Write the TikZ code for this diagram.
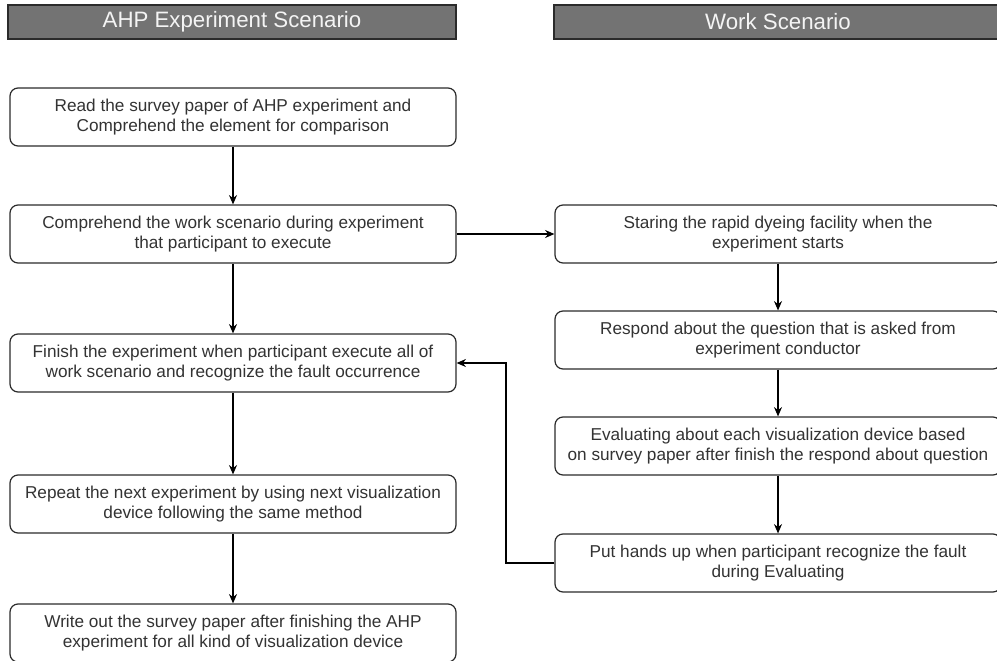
\documentclass[tikz,border=0pt]{standalone}
\usepackage{fontspec}
\setmainfont{Liberation Sans}
\usetikzlibrary{arrows.meta}
\definecolor{headfill}{HTML}{737373}
\definecolor{headtext}{HTML}{F4F4F4}
\definecolor{boxline}{HTML}{2B2B2B}
\definecolor{boxtext}{HTML}{333333}
\begin{document}
\begin{tikzpicture}[x=0.75pt,y=-0.75pt,
  header/.style={draw=boxline,fill=headfill,line width=1pt,minimum width=336pt,minimum height=25.5pt,
    inner sep=0pt,text=headtext,font=\fontsize{16.7pt}{19pt}\selectfont},
  stepbox/.style={draw=boxline,fill=white,line width=0.9pt,rounded corners=6pt,minimum width=334.5pt,
    minimum height=43.5pt,inner sep=0pt,align=center,text=boxtext,
    font=\fontsize{12.9pt}{15pt}\selectfont},
  flow/.style={draw=black,line width=0.8pt,-{Stealth[length=7pt,width=6pt]}}]
\useasboundingbox (0,0) rectangle (997,661);
\clip (0,0) rectangle (997,661);

% column headers
\node[header] (hL) at (232,22) {AHP Experiment Scenario};
\node[header] (hR) at (778,22) {Work Scenario};

% left column: experiment procedure
\node[stepbox] (L1) at (233,117) {Read the survey paper of AHP experiment and\\Comprehend the element for comparison};
\node[stepbox] (L2) at (233,234) {Comprehend the work scenario during experiment\\that participant to execute};
\node[stepbox] (L3) at (233,363) {Finish the experiment when participant execute all of\\work scenario and recognize the fault occurrence};
\node[stepbox] (L4) at (233,504) {Repeat the next experiment by using next visualization\\device following the same method};
\node[stepbox] (L5) at (233,633) {Write out the survey paper after finishing the AHP\\experiment for all kind of visualization device};

% right column: work scenario
\node[stepbox] (R1) at (778,234) {Staring the rapid dyeing facility when the\\experiment starts};
\node[stepbox] (R2) at (778,340) {Respond about the question that is asked from\\experiment conductor};
\node[stepbox] (R3) at (778,446) {Evaluating about each visualization device based\\on survey paper after finish the respond about question};
\node[stepbox] (R4) at (778,563) {Put hands up when participant recognize the fault\\during Evaluating};

% connectors
\draw[flow] (L1) -- (L2);
\draw[flow] (L2) -- (L3);
\draw[flow] (L3) -- (L4);
\draw[flow] (L4) -- (L5);
\draw[flow] (L2) -- (R1);
\draw[flow] (R1) -- (R2);
\draw[flow] (R2) -- (R3);
\draw[flow] (R3) -- (R4);
\coordinate (fb) at (506,563);
\draw[flow] (R4.west) -- (fb) |- (L3.east);
\end{tikzpicture}
\end{document}
